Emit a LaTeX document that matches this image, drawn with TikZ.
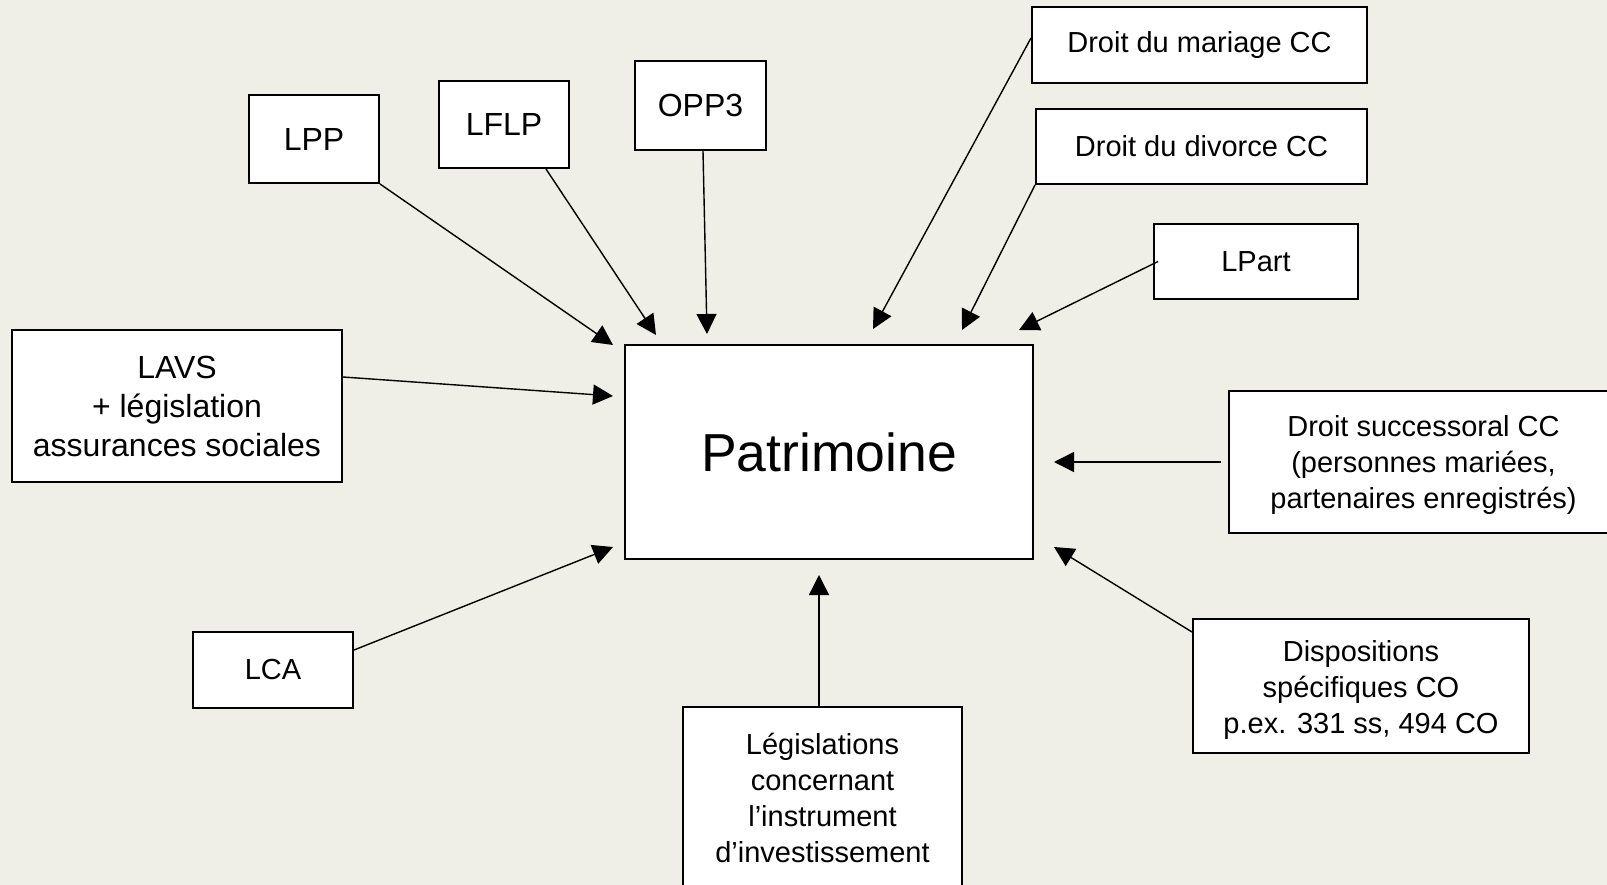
\documentclass[tikz,border=0pt]{standalone}
\usepackage{fontspec}
\setmainfont{Liberation Sans}
\usetikzlibrary{arrows.meta}
\definecolor{bgsand}{RGB}{239,239,231}
\newcommand{\loweredlines}[2]{\raisebox{-#1}[\height][\depth]{\begin{tabular}{@{}c@{}}#2\end{tabular}}}
\begin{document}
\begin{tikzpicture}[x=1pt,y=-1pt,
  box/.style={draw=black, fill=white, line width=2pt, align=center, inner sep=0pt,
    font=\fontsize{29}{36}\selectfont},
  bigbox/.style={box, font=\fontsize{32}{39}\selectfont},
  link/.style={draw=black, line width=1.4pt, -{Triangle[length=20pt,width=20pt]}}]
\fill[bgsand] (0,0) rectangle (1607,885);
\useasboundingbox (0,0) rectangle (1607,885);
\begin{scope}
\clip (0,0) rectangle (1607,885);
\node[box, minimum width=408pt, minimum height=214pt, font=\fontsize{53.5}{60}\selectfont] (patr) at (829,452) {Patrimoine};
\node[bigbox, minimum width=130pt, minimum height=88pt] (lpp) at (314,139) {LPP};
\node[bigbox, minimum width=130pt, minimum height=87pt] (lflp) at (504,124.5) {LFLP};
\node[bigbox, minimum width=131pt, minimum height=89pt] (opp3) at (700.5,105.5) {OPP3};
\node[box, minimum width=335pt, minimum height=76pt] (mar) at (1199.5,45) {Droit du mariage CC};
\node[box, minimum width=331pt, minimum height=75pt] (div) at (1201.5,146.5) {Droit du divorce CC};
\node[box, minimum width=204pt, minimum height=75pt] (lpart) at (1256,261.5) {LPart};
\node[bigbox, minimum width=330pt, minimum height=152pt] (lavs) at (177,406) {LAVS\\+ législation\\assurances sociales};
\node[box, minimum width=389pt, minimum height=142pt] (succ) at (1423.5,462) {\loweredlines{3pt}{Droit successoral CC\\(personnes mariées,\\partenaires enregistrés)}};
\node[box, minimum width=160pt, minimum height=76pt] (lca) at (273,670) {LCA};
\node[box, minimum width=279pt, minimum height=180pt] (legis) at (822.5,797) {\loweredlines{4pt}{Législations\\concernant\\l’instrument\\d’investissement}};
\node[box, minimum width=336pt, minimum height=134pt] (disp) at (1361,686) {\loweredlines{4pt}{Dispositions\\spécifiques CO\\p.ex. 331 ss, 494 CO}};
\end{scope}
\coordinate (tLPP) at (613,345);
\coordinate (tLFLP) at (656,335);
\coordinate (tOPP3) at (707,334);
\coordinate (tMAR) at (873,329);
\coordinate (tDIV) at (962,330);
\coordinate (tLPART) at (1019,330);
\coordinate (tLAVS) at (613,396);
\coordinate (tSUCC) at (1054,462);
\coordinate (tLCA) at (613,547);
\coordinate (tDISP) at (1054,547);
\coordinate (tLEGIS) at (819,575);
\draw[link] (lpp.south east) -- (tLPP);
\draw[link] ([xshift=42pt]lflp.south) -- (tLFLP);
\draw[link] ([xshift=2.5pt]opp3.south) -- (tOPP3);
\draw[link] ([yshift=7pt]mar.west) -- (tMAR);
\draw[link] (div.south west) -- (tDIV);
\draw[link] ([xshift=5pt]lpart.west) -- (tLPART);
\draw[link] ([yshift=29pt]lavs.east) -- (tLAVS);
\draw[link] ([xshift=-7pt]succ.west) -- (tSUCC);
\draw[link] ([yshift=20pt]lca.east) -- (tLCA);
\draw[link] ([yshift=-14pt]disp.north west) -- (tDISP);
\draw[link] ([xshift=-3.5pt]legis.north) -- (tLEGIS);
\end{tikzpicture}
\end{document}
